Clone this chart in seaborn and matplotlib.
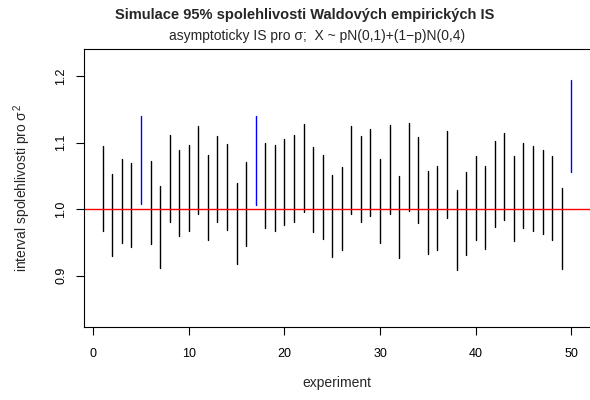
import matplotlib
matplotlib.use("Agg")
import matplotlib.pyplot as plt
import numpy as np
import pandas as pd
import seaborn as sns

experiment = list(range(1, 51))
lower = [0.967, 0.929, 0.949, 0.943, 1.007, 0.947, 0.912, 0.981, 0.960, 0.967,
         0.993, 0.954, 0.980, 0.969, 0.917, 0.944, 1.006, 0.971, 0.967, 0.976,
         0.981, 0.995, 0.965, 0.955, 0.928, 0.938, 0.993, 0.980, 0.990, 0.949,
         0.993, 0.926, 0.997, 0.979, 0.933, 0.939, 0.987, 0.908, 0.931, 0.953,
         0.940, 0.973, 0.983, 0.952, 0.971, 0.967, 0.962, 0.953, 0.910, 1.055]
upper = [1.095, 1.052, 1.075, 1.069, 1.140, 1.072, 1.034, 1.111, 1.088, 1.096,
         1.125, 1.081, 1.110, 1.098, 1.039, 1.070, 1.140, 1.099, 1.096, 1.105,
         1.111, 1.128, 1.093, 1.081, 1.051, 1.063, 1.125, 1.110, 1.121, 1.075,
         1.126, 1.050, 1.129, 1.109, 1.057, 1.064, 1.118, 1.028, 1.055, 1.079,
         1.065, 1.103, 1.114, 1.079, 1.100, 1.095, 1.089, 1.079, 1.031, 1.194]
true_value = 1.0

sns.set_theme(style="white")
plt.rcParams["font.family"] = ["Liberation Sans", "DejaVu Sans"]
plt.rcParams["mathtext.fontset"] = "custom"
plt.rcParams["mathtext.rm"] = "Liberation Sans"
plt.rcParams["mathtext.it"] = "Liberation Sans"

rows = []
for i, lo, hi in zip(experiment, lower, upper):
    covers = "ano" if lo <= true_value <= hi else "ne"
    rows.append({"id": i, "experiment": i, "value": lo, "covers": covers})
    rows.append({"id": i, "experiment": i, "value": hi, "covers": covers})
df = pd.DataFrame(rows)

fig = plt.figure(figsize=(5.9, 4.0), dpi=100)
ax = fig.add_axes([84 / 590, 73 / 400, 506 / 590, 278 / 400])

sns.lineplot(data=df, x="experiment", y="value", units="id", estimator=None,
             hue="covers", palette={"ano": "black", "ne": "blue"},
             linewidth=1.0, legend=False, ax=ax, sort=False)
ax.axhline(true_value, color="red", linewidth=1.0)

ax.set_xlim(-0.96, 51.96)
ax.set_ylim(0.8226, 1.2406)
ax.set_xticks([0, 10, 20, 30, 40, 50])
ax.set_yticks([0.9, 1.0, 1.1, 1.2])
ax.set_yticklabels(["0.9", "1.0", "1.1", "1.2"])
ax.tick_params(axis="both", direction="out", length=6, width=0.8,
               labelsize=9, colors="black",
               bottom=True, left=True)
ax.tick_params(axis="x", pad=9)
ax.tick_params(axis="y", pad=6, labelrotation=90)
for lab in ax.get_yticklabels():
    lab.set_verticalalignment("center")
for side in ["left", "bottom", "top"]:
    ax.spines[side].set_color("black")
    ax.spines[side].set_linewidth(0.8)
ax.spines["right"].set_visible(False)

ax.set_xlabel("experiment", fontsize=10, labelpad=12)
ax.set_ylabel(r"interval spolehlivosti pro $\sigma^2$", fontsize=10, labelpad=16)

fig.text(305 / 590, 1 - 15 / 400, "Simulace 95% spolehlivosti Waldových empirických IS",
         ha="center", va="center", fontsize=10.5, fontweight="bold")
fig.text(317 / 590, 1 - 36 / 400, "asymptoticky IS pro σ;  X ~ pN(0,1)+(1−p)N(0,4)",
         ha="center", va="center", fontsize=10)

fig.savefig("out.png", dpi=100)
